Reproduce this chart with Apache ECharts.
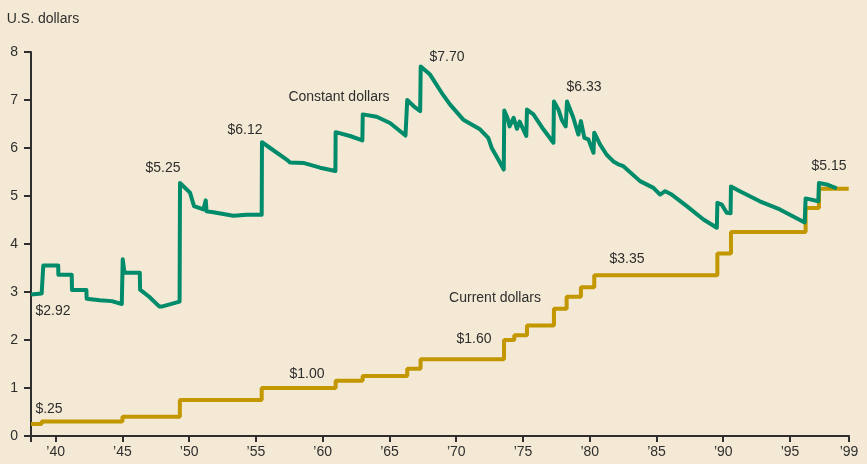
<!DOCTYPE html>
<html>
<head>
<meta charset="utf-8">
<script src="https://cdn.jsdelivr.net/npm/echarts@6/dist/echarts.min.js"></script>
<style>
  html, body { margin: 0; padding: 0; background: #f3e9d4; }
  #chart { width: 867px; height: 464px; }
</style>
</head>
<body>
<div id="chart"></div>
<script>
// minimum wage, current dollars: year of each change and the new rate
const currentYears = [1938.15, 1938.95, 1945.0, 1949.3, 1955.43, 1960.97, 1962.99, 1966.33, 1967.33,
  1973.58, 1974.35, 1975.3, 1977.32, 1978.27, 1979.34, 1980.34, 1989.56, 1990.58, 1996.17, 1997.17, 1999.4]
const currentValues = [0.25, 0.30, 0.40, 0.75, 1.00, 1.15, 1.25, 1.40, 1.60,
  2.00, 2.10, 2.30, 2.65, 2.90, 3.10, 3.35, 3.80, 4.25, 4.75, 5.15, 5.15]

// minimum wage in constant (1999) dollars
const constantYears = [1938.15, 1938.95, 1939.07, 1940.19, 1940.2, 1941.2, 1941.22, 1942.3, 1942.32, 1943.3,
  1944.2, 1944.95, 1945.02, 1945.15, 1946.3, 1946.32, 1947.0, 1947.75, 1948.0, 1949.28,
  1949.31, 1950.06, 1950.36, 1951.06, 1951.2, 1951.24, 1951.3, 1951.81, 1953.3, 1954.31,
  1955.43, 1955.45, 1956.06, 1957.3, 1957.55, 1958.55, 1959.8, 1960.95, 1960.97, 1962.05,
  1962.97, 1963.0, 1964.04, 1965.04, 1966.2, 1966.33, 1966.9, 1967.3, 1967.34, 1968.04,
  1968.91, 1969.53, 1970.53, 1971.78, 1972.4, 1972.66, 1973.15, 1973.56, 1973.6, 1973.85,
  1974.0, 1974.3, 1974.55, 1974.75, 1975.25, 1975.3, 1975.78, 1976.53, 1977.28, 1977.32,
  1977.66, 1977.9, 1978.2, 1978.3, 1978.77, 1979.15, 1979.34, 1979.6, 1979.9, 1980.28,
  1980.34, 1980.78, 1981.27, 1981.77, 1982.14, 1982.52, 1983.77, 1984.77, 1985.27, 1985.65,
  1986.14, 1987.27, 1988.52, 1989.52, 1989.56, 1989.89, 1990.26, 1990.55, 1990.58, 1991.25,
  1992.74, 1994.24, 1996.1, 1996.17, 1997.12, 1997.17, 1997.75, 1998.5]
const constantValues = [2.95, 2.97, 3.55, 3.55, 3.36, 3.36, 3.04, 3.04, 2.86, 2.83,
  2.81, 2.75, 3.68, 3.40, 3.40, 3.05, 2.90, 2.70, 2.70, 2.80,
  5.27, 5.07, 4.79, 4.72, 4.72, 4.91, 4.68, 4.66, 4.59, 4.61,
  4.61, 6.12, 6.00, 5.76, 5.70, 5.69, 5.59, 5.52, 6.33, 6.25,
  6.16, 6.70, 6.65, 6.52, 6.26, 7.00, 6.85, 6.77, 7.70, 7.53,
  7.15, 6.91, 6.59, 6.39, 6.21, 6.00, 5.76, 5.55, 6.78, 6.62,
  6.45, 6.63, 6.40, 6.55, 6.25, 6.80, 6.70, 6.39, 6.11, 6.97,
  6.80, 6.59, 6.45, 6.97, 6.63, 6.28, 6.56, 6.21, 6.18, 5.90,
  6.32, 6.07, 5.86, 5.72, 5.66, 5.62, 5.31, 5.17, 5.03, 5.10,
  5.03, 4.79, 4.51, 4.34, 4.86, 4.82, 4.65, 4.64, 5.20, 5.10,
  4.89, 4.72, 4.45, 4.95, 4.89, 5.27, 5.24, 5.16]

const xMin = 1938.15
const xMax = 1999.42
const tickYears = [xMin, 1940, 1945, 1950, 1955, 1960, 1965, 1970, 1975, 1980, 1985, 1990, 1995, xMax]
const tickLabels = ['', '\u201940', '\u201945', '\u201950', '\u201955', '\u201960', '\u201965', '\u201970',
  '\u201975', '\u201980', '\u201985', '\u201990', '\u201995', '\u201999']

// annotation texts with their centre positions
const notes = [
  ['U.S. dollars', 43, 19],
  ['$2.92', 53, 311],
  ['$.25', 49, 409],
  ['$5.25', 163, 168],
  ['$6.12', 245, 130],
  ['Constant dollars', 339, 97],
  ['$7.70', 447, 57],
  ['$6.33', 584, 87],
  ['$3.35', 627, 259],
  ['$5.15', 829, 166],
  ['Current dollars', 495, 298],
  ['$1.60', 474, 339],
  ['$1.00', 307, 374]
]

const green = '#008c6b'
const gold = '#c39700'
const ink = '#2e2e2e'
const font = '"Liberation Sans", Arial, sans-serif'

const chart = echarts.init(document.getElementById('chart'))
chart.setOption({
  backgroundColor: '#f3e9d4',
  animation: false,
  grid: { left: 31, right: 18, top: 52, bottom: 28 },
  xAxis: {
    type: 'value',
    min: xMin,
    max: xMax,
    splitLine: { show: false },
    axisLine: { lineStyle: { color: ink, width: 2 } },
    axisTick: { customValues: tickYears, length: 6, lineStyle: { color: ink, width: 2 } },
    axisLabel: {
      customValues: tickYears,
      margin: 9,
      color: ink,
      fontSize: 14,
      fontFamily: font,
      formatter: v => tickLabels[tickYears.indexOf(v)]
    }
  },
  yAxis: {
    type: 'value',
    min: 0,
    max: 8,
    interval: 1,
    splitLine: { show: false },
    axisLine: { show: true, lineStyle: { color: ink, width: 2 } },
    axisTick: { show: true, length: 7, lineStyle: { color: ink, width: 2 } },
    axisLabel: { margin: 13, color: ink, fontSize: 14, fontFamily: font }
  },
  series: [
    {
      name: 'Current dollars',
      type: 'line',
      step: 'end',
      showSymbol: false,
      data: currentYears.map((y, i) => [y, currentValues[i]]),
      lineStyle: { color: gold, width: 4 }
    },
    {
      name: 'Constant dollars',
      type: 'line',
      showSymbol: false,
      data: constantYears.map((y, i) => [y, constantValues[i]]),
      lineStyle: { color: green, width: 4, join: 'round' }
    }
  ],
  graphic: notes.map(n => ({
    type: 'text',
    x: n[1],
    y: n[2],
    style: {
      text: n[0],
      fill: ink,
      font: '14px ' + font,
      textAlign: 'center',
      textVerticalAlign: 'middle'
    }
  }))
})
</script>
</body>
</html>
